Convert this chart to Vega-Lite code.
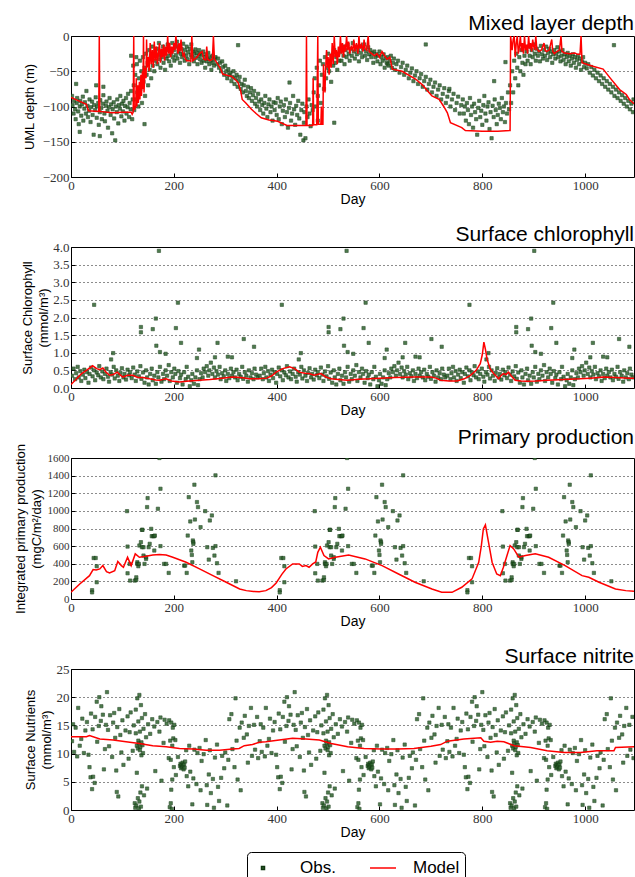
{
"$schema": "https://vega.github.io/schema/vega-lite/v6.json",
"background": "white",
"padding": {"left": 13, "top": 12, "right": 0, "bottom": 0},
"config": {
  "view": {"stroke": "black", "strokeWidth": 1},
  "axis": {"labelFont": "Liberation Serif", "labelFontSize": 13, "labelColor": "#333", "titleFont": "Liberation Sans", "titleFontSize": 13, "titleFontWeight": "normal", "titleColor": "black", "domain": false, "tickColor": "black", "tickSize": -4, "labelPadding": 5, "labelOverlap": false, "labelFlush": false, "gridDash": [1, 3], "gridColor": "black", "gridOpacity": 0.9, "titleLineHeight": 16},
  "axisX": {"grid": false, "titlePadding": 0, "titleFontSize": 14, "labelPadding": 6},
  "axisY": {"grid": true, "labelPadding": 6},
  "title": {"font": "Liberation Sans", "fontSize": 21, "fontWeight": "normal", "anchor": "end", "offset": -4, "color": "black"}
},
"datasets": {
"mldObs": [
{"d":2,"v":-85},{"d":3,"v":-98},{"d":5,"v":-110},{"d":6,"v":-92},{"d":8,"v":-104},{"d":9,"v":-118},{"d":10,"v":-68},{"d":11,"v":-95},{"d":12,"v":-88},{"d":14,"v":-107},{"d":15,"v":-125},{"d":17,"v":-100},{"d":17,"v":-136},{"d":18,"v":-92},{"d":20,"v":-113},{"d":21,"v":-97},{"d":23,"v":-86},{"d":24,"v":-120},{"d":26,"v":-103},{"d":27,"v":-94},{"d":29,"v":-110},{"d":30,"v":-78},{"d":32,"v":-99},{"d":33,"v":-115},{"d":35,"v":-106},{"d":36,"v":-90},{"d":38,"v":-122},{"d":39,"v":-101},{"d":41,"v":-93},{"d":42,"v":-112},{"d":44,"v":-140},{"d":45,"v":-98},{"d":47,"v":-105},{"d":48,"v":-87},{"d":49,"v":-70},{"d":50,"v":-116},{"d":51,"v":-100},{"d":53,"v":-95},{"d":54,"v":-126},{"d":56,"v":-108},{"d":56,"v":-142},{"d":57,"v":-91},{"d":59,"v":-102},{"d":60,"v":-118},{"d":62,"v":-96},{"d":63,"v":-84},{"d":63,"v":-72},{"d":65,"v":-110},{"d":66,"v":-121},{"d":68,"v":-99},{"d":69,"v":-93},{"d":71,"v":-106},{"d":72,"v":-130},{"d":74,"v":-101},{"d":75,"v":-88},{"d":77,"v":-112},{"d":78,"v":-97},{"d":80,"v":-138},{"d":81,"v":-104},{"d":83,"v":-94},{"d":84,"v":-117},{"d":86,"v":-148},{"d":87,"v":-100},{"d":89,"v":-108},{"d":90,"v":-90},{"d":92,"v":-124},{"d":93,"v":-98},{"d":95,"v":-103},{"d":96,"v":-85},{"d":98,"v":-114},{"d":99,"v":-96},{"d":101,"v":-107},{"d":102,"v":-92},{"d":104,"v":-120},{"d":105,"v":-99},{"d":107,"v":-88},{"d":108,"v":-110},{"d":110,"v":-101},{"d":111,"v":-82},{"d":113,"v":-115},{"d":114,"v":-95},{"d":116,"v":-104},{"d":117,"v":-78},{"d":117,"v":-28},{"d":119,"v":-118},{"d":120,"v":-90},{"d":121,"v":-42},
{"d":122,"v":-70},{"d":123,"v":-105},{"d":125,"v":-55},{"d":126,"v":-90},{"d":127,"v":-30},{"d":128,"v":-40},{"d":129,"v":-80},{"d":131,"v":-100},{"d":132,"v":-60},{"d":134,"v":-35},{"d":135,"v":-75},{"d":137,"v":-50},{"d":138,"v":-95},{"d":140,"v":-30},{"d":141,"v":-65},{"d":143,"v":-45},{"d":143,"v":-125},{"d":144,"v":-85},{"d":146,"v":-25},{"d":147,"v":-55},{"d":149,"v":-38},{"d":150,"v":-70},{"d":152,"v":-20},{"d":153,"v":-48},{"d":155,"v":-30},{"d":156,"v":-60},{"d":158,"v":-15},{"d":159,"v":-42},{"d":161,"v":-28},{"d":162,"v":-50},{"d":164,"v":-22},{"d":165,"v":-35},
{"d":167,"v":-18},{"d":168,"v":-40},{"d":170,"v":-27},{"d":171,"v":-10},{"d":173,"v":-33},{"d":174,"v":-45},{"d":176,"v":-22},{"d":177,"v":-30},{"d":179,"v":-15},{"d":180,"v":-38},{"d":182,"v":-25},{"d":183,"v":-48},{"d":185,"v":-20},{"d":186,"v":-32},{"d":188,"v":-12},{"d":189,"v":-28},{"d":191,"v":-36},{"d":192,"v":-18},{"d":194,"v":-42},{"d":195,"v":-24},{"d":197,"v":-10},{"d":198,"v":-30},{"d":200,"v":-20},{"d":201,"v":-35},{"d":203,"v":-15},{"d":204,"v":-27},{"d":206,"v":-8},{"d":207,"v":-32},{"d":209,"v":-22},{"d":210,"v":-14},{"d":212,"v":-38},{"d":213,"v":-25},{"d":215,"v":-18},{"d":216,"v":-30},{"d":218,"v":-11},{"d":219,"v":-26},{"d":221,"v":-35},{"d":222,"v":-20},{"d":224,"v":-28},{"d":225,"v":-15},{"d":227,"v":-33},{"d":228,"v":-23},{"d":230,"v":-40},{"d":231,"v":-18},{"d":233,"v":-27},{"d":234,"v":-12},{"d":236,"v":-30},{"d":237,"v":-22},{"d":239,"v":-36},{"d":240,"v":-25},{"d":242,"v":-19},{"d":243,"v":-31},{"d":245,"v":-24},{"d":246,"v":-40},{"d":248,"v":-28},{"d":249,"v":-20},{"d":251,"v":-33},{"d":252,"v":-25},{"d":254,"v":-38},{"d":255,"v":-27},{"d":257,"v":-22},{"d":258,"v":-35},{"d":260,"v":-30},{"d":261,"v":-45},{"d":263,"v":-26},{"d":264,"v":-36},{"d":266,"v":-32},{"d":267,"v":-24},{"d":269,"v":-40},{"d":270,"v":-30},{"d":272,"v":-35},{"d":273,"v":-48},{"d":275,"v":-28},{"d":276,"v":-38},{"d":278,"v":-42},{"d":279,"v":-33},{"d":281,"v":-30},
{"d":284,"v":-40},{"d":286,"v":-32},{"d":288,"v":-45},{"d":290,"v":-38},{"d":292,"v":-50},{"d":294,"v":-36},{"d":296,"v":-44},{"d":298,"v":-55},{"d":300,"v":-42},{"d":302,"v":-50},{"d":304,"v":-60},{"d":306,"v":-47},{"d":308,"v":-55},{"d":310,"v":-52},{"d":312,"v":-64},{"d":314,"v":-58},{"d":316,"v":-50},{"d":318,"v":-68},{"d":320,"v":-60},{"d":322,"v":-55},{"d":324,"v":-72},{"d":325,"v":-13},{"d":326,"v":-64},{"d":328,"v":-58},{"d":330,"v":-75},{"d":332,"v":-68},{"d":334,"v":-80},{"d":336,"v":-70},{"d":338,"v":-62},{"d":340,"v":-78},{"d":342,"v":-85},{"d":344,"v":-72},{"d":346,"v":-88},{"d":348,"v":-80},{"d":350,"v":-74},{"d":352,"v":-92},{"d":354,"v":-84},{"d":356,"v":-78},{"d":358,"v":-96},{"d":360,"v":-88},{"d":362,"v":-100},{"d":364,"v":-82},{"d":366,"v":-93},{"d":368,"v":-105},{"d":370,"v":-90},{"d":372,"v":-98},{"d":374,"v":-110},{"d":376,"v":-95},{"d":378,"v":-85},{"d":380,"v":-103},{"d":382,"v":-115},{"d":384,"v":-97},{"d":386,"v":-90},{"d":388,"v":-108},{"d":390,"v":-100},{"d":392,"v":-120},{"d":394,"v":-94},
{"d":396,"v":-105},{"d":398,"v":-95},{"d":400,"v":-112},{"d":402,"v":-88},{"d":404,"v":-118},{"d":406,"v":-100},{"d":408,"v":-93},{"d":410,"v":-125},{"d":412,"v":-106},{"d":414,"v":-98},{"d":416,"v":-115},{"d":418,"v":-90},{"d":420,"v":-108},{"d":422,"v":-130},{"d":424,"v":-102},{"d":425,"v":-66},{"d":426,"v":-95},{"d":428,"v":-120},{"d":430,"v":-110},{"d":432,"v":-85},{"d":434,"v":-104},{"d":436,"v":-126},{"d":438,"v":-99},{"d":440,"v":-112},{"d":442,"v":-92},{"d":444,"v":-117},{"d":446,"v":-140},{"d":448,"v":-105},{"d":450,"v":-96},{"d":452,"v":-148},{"d":453,"v":-123},{"d":454,"v":-108},{"d":456,"v":-145},{"d":458,"v":-100},{"d":460,"v":-115},{"d":462,"v":-90},{"d":464,"v":-110},{"d":466,"v":-128},{"d":468,"v":-98},{"d":470,"v":-105},{"d":472,"v":-80},
{"d":474,"v":-60},{"d":476,"v":-100},{"d":478,"v":-45},{"d":480,"v":-85},{"d":480,"v":-120},{"d":482,"v":-70},{"d":484,"v":-35},{"d":486,"v":-95},{"d":488,"v":-55},{"d":490,"v":-40},{"d":492,"v":-75},{"d":494,"v":-30},{"d":496,"v":-60},{"d":498,"v":-45},{"d":500,"v":-25},{"d":502,"v":-50},{"d":504,"v":-35},{"d":506,"v":-65},{"d":508,"v":-28},{"d":510,"v":-42},{"d":512,"v":-20},{"d":512,"v":-123},{"d":514,"v":-38},{"d":516,"v":-30},{"d":518,"v":-48},{"d":520,"v":-25},{"d":522,"v":-35},
{"d":524,"v":-22},{"d":526,"v":-35},{"d":528,"v":-15},{"d":530,"v":-28},{"d":532,"v":-40},{"d":534,"v":-20},{"d":536,"v":-30},{"d":538,"v":-12},{"d":540,"v":-25},{"d":542,"v":-35},{"d":544,"v":-18},{"d":546,"v":-28},{"d":548,"v":-10},{"d":550,"v":-22},{"d":552,"v":-32},{"d":554,"v":-15},{"d":556,"v":-26},{"d":558,"v":-20},{"d":560,"v":-36},{"d":562,"v":-14},{"d":564,"v":-24},{"d":566,"v":-30},{"d":568,"v":-18},{"d":570,"v":-12},{"d":572,"v":-28},{"d":574,"v":-22},{"d":576,"v":-34},{"d":578,"v":-16},{"d":580,"v":-26},{"d":582,"v":-20},{"d":584,"v":-30},{"d":586,"v":-24},{"d":588,"v":-38},{"d":590,"v":-22},{"d":592,"v":-30},{"d":594,"v":-26},{"d":596,"v":-36},{"d":598,"v":-28},{"d":600,"v":-22},{"d":602,"v":-40},{"d":604,"v":-30},{"d":606,"v":-35},{"d":608,"v":-26},{"d":610,"v":-45},{"d":612,"v":-32},{"d":614,"v":-38},
{"d":616,"v":-30},{"d":616,"v":-40},{"d":618,"v":-42},{"d":620,"v":-35},{"d":622,"v":-28},{"d":624,"v":-45},{"d":626,"v":-38},{"d":628,"v":-32},{"d":630,"v":-48},{"d":633,"v":-40},{"d":636,"v":-35},{"d":639,"v":-52},{"d":642,"v":-44},{"d":645,"v":-38},{"d":648,"v":-55},{"d":651,"v":-48},{"d":654,"v":-42},{"d":657,"v":-60},{"d":660,"v":-52},{"d":663,"v":-46},{"d":666,"v":-64},{"d":669,"v":-56},{"d":672,"v":-50},{"d":675,"v":-68},{"d":678,"v":-60},{"d":681,"v":-54},{"d":684,"v":-72},{"d":687,"v":-64},{"d":690,"v":-58},{"d":690,"v":-12},{"d":693,"v":-76},{"d":696,"v":-68},{"d":699,"v":-62},{"d":702,"v":-80},{"d":705,"v":-72},{"d":708,"v":-66},{"d":711,"v":-85},{"d":714,"v":-76},{"d":717,"v":-70},{"d":720,"v":-90},{"d":723,"v":-82},{"d":726,"v":-74},{"d":729,"v":-95},{"d":732,"v":-86},{"d":735,"v":-78},{"d":736,"v":-75},{"d":738,"v":-100},{"d":741,"v":-90},{"d":744,"v":-82},{"d":747,"v":-105},{"d":750,"v":-95},{"d":753,"v":-86},{"d":756,"v":-110},{"d":759,"v":-98},
{"d":762,"v":-90},{"d":764,"v":-110},{"d":766,"v":-100},{"d":768,"v":-120},{"d":770,"v":-95},{"d":772,"v":-105},{"d":774,"v":-125},{"d":776,"v":-88},{"d":778,"v":-112},{"d":780,"v":-100},{"d":782,"v":-130},{"d":784,"v":-96},{"d":786,"v":-108},{"d":788,"v":-118},{"d":790,"v":-140},{"d":792,"v":-102},{"d":794,"v":-92},{"d":796,"v":-115},{"d":798,"v":-106},{"d":800,"v":-126},{"d":802,"v":-98},{"d":804,"v":-85},{"d":806,"v":-110},{"d":808,"v":-120},{"d":810,"v":-100},{"d":812,"v":-94},{"d":814,"v":-132},{"d":816,"v":-108},{"d":818,"v":-145},{"d":820,"v":-99},{"d":822,"v":-115},{"d":823,"v":-64},{"d":824,"v":-90},{"d":826,"v":-105},{"d":828,"v":-125},{"d":830,"v":-112},{"d":832,"v":-96},{"d":834,"v":-102},{"d":836,"v":-118},{"d":838,"v":-88},{"d":840,"v":-108},{"d":842,"v":-100},{"d":844,"v":-122},{"d":845,"v":-37},{"d":846,"v":-95},{"d":848,"v":-110},{"d":850,"v":-80},{"d":852,"v":-104},
{"d":854,"v":-70},{"d":856,"v":-95},{"d":858,"v":-50},{"d":860,"v":-80},{"d":862,"v":-35},{"d":864,"v":-60},{"d":866,"v":-25},{"d":868,"v":-45},{"d":870,"v":-70},{"d":872,"v":-30},{"d":874,"v":-50},{"d":876,"v":-20},{"d":878,"v":-38},{"d":880,"v":-55},{"d":882,"v":-28},{"d":884,"v":-40},
{"d":886,"v":-22},{"d":888,"v":-35},{"d":890,"v":-15},{"d":892,"v":-28},{"d":894,"v":-40},{"d":896,"v":-20},{"d":898,"v":-30},{"d":900,"v":-12},{"d":902,"v":-25},{"d":904,"v":-35},{"d":906,"v":-18},{"d":908,"v":-28},{"d":910,"v":-22},{"d":912,"v":-36},{"d":914,"v":-14},{"d":916,"v":-26},{"d":918,"v":-32},{"d":920,"v":-20},{"d":922,"v":-28},{"d":924,"v":-15},{"d":926,"v":-34},{"d":928,"v":-24},{"d":930,"v":-18},{"d":932,"v":-30},{"d":934,"v":-22},{"d":936,"v":-38},{"d":938,"v":-26},{"d":940,"v":-20},{"d":942,"v":-32},{"d":944,"v":-25},{"d":946,"v":-16},{"d":948,"v":-30},{"d":950,"v":-22},{"d":952,"v":-36},{"d":954,"v":-28},{"d":956,"v":-20},{"d":958,"v":-34},{"d":960,"v":-26},{"d":962,"v":-40},{"d":964,"v":-30},{"d":966,"v":-24},{"d":968,"v":-36},{"d":970,"v":-28},{"d":972,"v":-42},{"d":974,"v":-32},{"d":976,"v":-26},{"d":978,"v":-38},{"d":980,"v":-30},{"d":982,"v":-45},{"d":984,"v":-34},{"d":986,"v":-28},{"d":988,"v":-40},{"d":990,"v":-32},{"d":992,"v":-48},{"d":994,"v":-36},{"d":996,"v":-30},{"d":998,"v":-44},
{"d":1000,"v":-38},{"d":1003,"v":-46},{"d":1006,"v":-40},{"d":1009,"v":-52},{"d":1012,"v":-44},{"d":1015,"v":-56},{"d":1018,"v":-48},{"d":1021,"v":-60},{"d":1024,"v":-52},{"d":1027,"v":-64},{"d":1030,"v":-56},{"d":1033,"v":-68},{"d":1036,"v":-60},{"d":1039,"v":-72},{"d":1042,"v":-64},{"d":1045,"v":-76},{"d":1048,"v":-68},{"d":1051,"v":-80},{"d":1054,"v":-72},{"d":1056,"v":-13},{"d":1057,"v":-85},{"d":1060,"v":-76},{"d":1063,"v":-88},{"d":1066,"v":-80},{"d":1069,"v":-92},{"d":1072,"v":-84},{"d":1075,"v":-96},{"d":1078,"v":-88},{"d":1081,"v":-100},{"d":1084,"v":-92},{"d":1087,"v":-104},{"d":1090,"v":-96},{"d":1093,"v":-108},{"d":1094,"v":-90}
],
"mldMod": [
{"d":0,"v":-87},{"d":15,"v":-92},{"d":30,"v":-97},{"d":34,"v":-106},{"d":54,"v":-107},{"d":55,"v":0},{"d":56,"v":-107},{"d":80,"v":-109},{"d":100,"v":-108},{"d":117,"v":-108},{"d":119,"v":-111},{"d":121,"v":-108},{"d":122,"v":0},{"d":123,"v":-105},{"d":126,"v":-100},{"d":127,"v":-60},{"d":128,"v":-100},{"d":130,"v":-70},{"d":131,"v":-95},{"d":133,"v":-65},{"d":134,"v":-90},{"d":136,"v":-55},{"d":137,"v":-85},{"d":139,"v":-50},{"d":140,"v":-75},{"d":141,"v":0},{"d":142,"v":-80},{"d":144,"v":-45},{"d":146,"v":-60},{"d":147,"v":-5},{"d":148,"v":-45},{"d":150,"v":-30},{"d":152,"v":-50},{"d":154,"v":-10},{"d":156,"v":-40},{"d":158,"v":-20},{"d":160,"v":-45},{"d":162,"v":-8},{"d":164,"v":-35},{"d":166,"v":-15},{"d":168,"v":-40},{"d":170,"v":-25},{"d":172,"v":-10},{"d":174,"v":-38},{"d":176,"v":-18},{"d":178,"v":-30},{"d":180,"v":-12},{"d":182,"v":-35},{"d":184,"v":-15},{"d":186,"v":-28},{"d":188,"v":0},{"d":190,"v":-25},{"d":192,"v":-10},{"d":194,"v":-30},{"d":196,"v":-15},{"d":198,"v":-25},{"d":200,"v":-10},{"d":202,"v":-20},{"d":204,"v":0},{"d":206,"v":-15},{"d":208,"v":-25},{"d":210,"v":-10},{"d":212,"v":-22},{"d":214,"v":-5},{"d":216,"v":-20},{"d":218,"v":-28},{"d":220,"v":-25},{"d":222,"v":-32},{"d":225,"v":-35},{"d":230,"v":-35},{"d":233,"v":-36},{"d":235,"v":0},{"d":237,"v":-35},{"d":245,"v":-30},{"d":250,"v":-25},{"d":255,"v":-22},{"d":258,"v":-33},{"d":262,"v":-34},{"d":264,"v":-15},{"d":266,"v":-33},{"d":270,"v":-35},{"d":275,"v":-33},{"d":277,"v":0},{"d":279,"v":-33},{"d":283,"v":-37},{"d":290,"v":-45},{"d":295,"v":-54},{"d":305,"v":-56},{"d":312,"v":-57},{"d":320,"v":-62},{"d":325,"v":-66},{"d":330,"v":-78},{"d":333,"v":-90},{"d":340,"v":-95},{"d":351,"v":-104},{"d":360,"v":-110},{"d":370,"v":-116},{"d":385,"v":-119},{"d":402,"v":-121},{"d":420,"v":-127},{"d":457,"v":-127},{"d":458,"v":0},{"d":459,"v":-127},{"d":470,"v":-127},{"d":471,"v":-60},{"d":472,"v":-126},{"d":478,"v":-126},{"d":480,"v":0},{"d":481,"v":-125},{"d":486,"v":-125},{"d":487,"v":-100},{"d":488,"v":-125},{"d":490,"v":-125},{"d":491,"v":-40},{"d":492,"v":-60},{"d":494,"v":-80},{"d":495,"v":-50},{"d":497,"v":-20},{"d":499,"v":-45},{"d":500,"v":-30},{"d":502,"v":-55},{"d":504,"v":-25},{"d":506,"v":-45},{"d":508,"v":-10},{"d":510,"v":-40},{"d":512,"v":0},{"d":514,"v":-30},{"d":516,"v":-20},{"d":518,"v":-40},{"d":520,"v":-15},{"d":522,"v":-30},{"d":524,"v":0},{"d":526,"v":-25},{"d":528,"v":-10},{"d":530,"v":-30},{"d":532,"v":-12},{"d":534,"v":-22},{"d":536,"v":0},{"d":538,"v":-20},{"d":540,"v":-8},{"d":542,"v":-25},{"d":545,"v":-15},{"d":548,"v":-20},{"d":550,"v":-5},{"d":552,"v":-22},{"d":555,"v":-10},{"d":558,"v":-25},{"d":560,"v":0},{"d":562,"v":-18},{"d":565,"v":-12},{"d":568,"v":-22},{"d":570,"v":-5},{"d":572,"v":-18},{"d":575,"v":-20},{"d":578,"v":0},{"d":580,"v":-22},{"d":585,"v":-25},{"d":590,"v":-28},{"d":595,"v":-25},{"d":600,"v":-30},{"d":605,"v":-22},{"d":610,"v":-28},{"d":615,"v":-33},{"d":620,"v":-30},{"d":625,"v":-47},{"d":644,"v":-50},{"d":670,"v":-61},{"d":683,"v":-69},{"d":702,"v":-85},{"d":716,"v":-90},{"d":725,"v":-100},{"d":732,"v":-109},{"d":738,"v":-123},{"d":760,"v":-130},{"d":767,"v":-134},{"d":800,"v":-135},{"d":830,"v":-135},{"d":854,"v":-134},{"d":855,"v":0},{"d":858,"v":-20},{"d":860,"v":-5},{"d":862,"v":0},{"d":864,"v":-30},{"d":866,"v":-10},{"d":868,"v":0},{"d":870,"v":-25},{"d":872,"v":-15},{"d":874,"v":0},{"d":876,"v":-22},{"d":878,"v":-10},{"d":880,"v":-25},{"d":882,"v":0},{"d":884,"v":-20},{"d":886,"v":-12},{"d":888,"v":-25},{"d":890,"v":0},{"d":892,"v":-18},{"d":894,"v":-10},{"d":896,"v":-22},{"d":898,"v":-5},{"d":900,"v":-15},{"d":902,"v":-20},{"d":904,"v":0},{"d":906,"v":-18},{"d":910,"v":-22},{"d":915,"v":-20},{"d":920,"v":-10},{"d":922,"v":-20},{"d":925,"v":-22},{"d":930,"v":-20},{"d":935,"v":-5},{"d":937,"v":-22},{"d":940,"v":-25},{"d":945,"v":-22},{"d":950,"v":-20},{"d":953,"v":0},{"d":955,"v":-22},{"d":960,"v":-24},{"d":970,"v":-25},{"d":980,"v":-24},{"d":985,"v":-26},{"d":990,"v":-26},{"d":992,"v":0},{"d":994,"v":-38},{"d":1003,"v":-40},{"d":1015,"v":-43},{"d":1035,"v":-47},{"d":1048,"v":-59},{"d":1067,"v":-76},{"d":1080,"v":-83},{"d":1086,"v":-90},{"d":1095,"v":-96}
],
"chlObs": [
{"d":2,"v":0.35},{"d":5,"v":0.55},{"d":8,"v":0.25},{"d":10,"v":0.42},{"d":13,"v":0.6},{"d":15,"v":0.3},{"d":18,"v":0.48},{"d":20,"v":0.2},{"d":23,"v":0.38},{"d":26,"v":0.52},{"d":28,"v":0.28},{"d":31,"v":0.45},{"d":34,"v":0.15},{"d":36,"v":0.4},{"d":39,"v":0.58},{"d":42,"v":0.33},{"d":45,"v":0.5},{"d":47,"v":0.22},{"d":50,"v":0.44},{"d":53,"v":0.36},{"d":55,"v":0.62},{"d":58,"v":0.3},{"d":61,"v":0.47},{"d":63,"v":0.25},{"d":66,"v":0.4},{"d":69,"v":0.55},{"d":72,"v":0.32},{"d":74,"v":0.18},{"d":77,"v":0.45},{"d":80,"v":0.38},{"d":83,"v":0.6},{"d":85,"v":0.27},{"d":88,"v":0.5},{"d":91,"v":0.35},{"d":94,"v":0.2},{"d":96,"v":0.43},{"d":99,"v":0.56},{"d":102,"v":0.3},{"d":104,"v":0.4},{"d":107,"v":0.24},{"d":110,"v":0.52},{"d":113,"v":0.36},{"d":115,"v":0.45},{"d":118,"v":0.28},{"d":121,"v":0.58},{"d":124,"v":0.38},{"d":126,"v":0.2},{"d":129,"v":0.47},{"d":132,"v":0.33},{"d":135,"v":0.62},{"d":137,"v":0.26},{"d":140,"v":0.44},{"d":143,"v":0.15},{"d":146,"v":0.5},{"d":148,"v":0.3},{"d":151,"v":0.1},{"d":154,"v":0.4},{"d":157,"v":0.55},{"d":159,"v":0.22},{"d":162,"v":0.35},{"d":165,"v":0.12},{"d":168,"v":0.45},{"d":170,"v":0.3},{"d":173,"v":0.6},{"d":176,"v":0.18},{"d":179,"v":0.4},{"d":181,"v":0.25},{"d":184,"v":0.5},{"d":187,"v":0.35},{"d":190,"v":0.65},{"d":192,"v":0.2},{"d":195,"v":0.45},{"d":198,"v":0.3},{"d":201,"v":0.55},{"d":203,"v":0.4},{"d":206,"v":0.15},{"d":209,"v":0.48},{"d":212,"v":0.28},{"d":214,"v":0.38},{"d":217,"v":0.1},{"d":220,"v":0.45},{"d":223,"v":0.25},{"d":225,"v":0.6},{"d":228,"v":0.32},{"d":231,"v":0.05},{"d":234,"v":0.22},{"d":236,"v":0.4},{"d":239,"v":0.12},{"d":242,"v":0.3},{"d":245,"v":0.5},{"d":247,"v":0.08},{"d":250,"v":0.25},{"d":253,"v":0.42},{"d":256,"v":0.3},{"d":258,"v":0.55},{"d":261,"v":0.45},{"d":264,"v":0.62},{"d":267,"v":0.35},{"d":269,"v":0.5},{"d":272,"v":0.72},{"d":275,"v":0.4},{"d":278,"v":0.58},{"d":280,"v":0.3},{"d":283,"v":0.48},{"d":286,"v":0.38},{"d":289,"v":0.6},{"d":291,"v":0.25},{"d":294,"v":0.42},{"d":297,"v":0.33},{"d":300,"v":0.5},{"d":302,"v":0.2},{"d":305,"v":0.4},{"d":308,"v":0.28},{"d":311,"v":0.55},{"d":313,"v":0.35},{"d":316,"v":0.45},{"d":319,"v":0.3},{"d":322,"v":0.52},{"d":324,"v":0.22},{"d":327,"v":0.4},{"d":330,"v":0.32},{"d":333,"v":0.6},{"d":335,"v":0.26},{"d":338,"v":0.45},{"d":341,"v":0.35},{"d":344,"v":0.18},{"d":346,"v":0.5},{"d":349,"v":0.3},{"d":352,"v":0.42},{"d":355,"v":0.25},{"d":357,"v":0.55},{"d":360,"v":0.38},{"d":363,"v":0.3},
{"d":45,"v":2.36},{"d":171,"v":3.89},{"d":208,"v":2.42},{"d":165,"v":1.97},{"d":136,"v":1.73},{"d":136,"v":1.58},{"d":159,"v":1.67},{"d":204,"v":1.7},{"d":214,"v":1.28},{"d":166,"v":1.2},{"d":173,"v":1.02},{"d":184,"v":0.97},{"d":82,"v":0.99},{"d":78,"v":0.81},{"d":249,"v":1.09},{"d":285,"v":1.28},{"d":336,"v":1.39},{"d":356,"v":1.17},{"d":305,"v":0.89},{"d":313,"v":0.87},{"d":280,"v":0.87},{"d":245,"v":0.85},
{"d":367,"v":0.35},{"d":370,"v":0.55},{"d":373,"v":0.25},{"d":375,"v":0.42},{"d":378,"v":0.6},{"d":380,"v":0.3},{"d":383,"v":0.48},{"d":385,"v":0.2},{"d":388,"v":0.38},{"d":391,"v":0.52},{"d":393,"v":0.28},{"d":396,"v":0.45},{"d":399,"v":0.15},{"d":401,"v":0.4},{"d":404,"v":0.58},{"d":407,"v":0.33},{"d":410,"v":0.5},{"d":412,"v":0.22},{"d":415,"v":0.44},{"d":418,"v":0.36},{"d":420,"v":0.62},{"d":423,"v":0.3},{"d":426,"v":0.47},{"d":428,"v":0.25},{"d":431,"v":0.4},{"d":434,"v":0.55},{"d":437,"v":0.32},{"d":439,"v":0.18},{"d":442,"v":0.45},{"d":445,"v":0.38},{"d":448,"v":0.6},{"d":450,"v":0.27},{"d":453,"v":0.5},{"d":456,"v":0.35},{"d":459,"v":0.2},{"d":461,"v":0.43},{"d":464,"v":0.56},{"d":467,"v":0.3},{"d":469,"v":0.4},{"d":472,"v":0.24},{"d":475,"v":0.52},{"d":478,"v":0.36},{"d":480,"v":0.45},{"d":483,"v":0.28},{"d":486,"v":0.58},{"d":489,"v":0.38},{"d":491,"v":0.2},{"d":494,"v":0.47},{"d":497,"v":0.33},{"d":500,"v":0.62},{"d":502,"v":0.26},{"d":505,"v":0.44},{"d":508,"v":0.15},{"d":511,"v":0.5},{"d":513,"v":0.3},{"d":516,"v":0.1},{"d":519,"v":0.4},{"d":522,"v":0.55},{"d":524,"v":0.22},{"d":527,"v":0.35},{"d":530,"v":0.12},{"d":533,"v":0.45},{"d":535,"v":0.3},{"d":538,"v":0.6},{"d":541,"v":0.18},{"d":544,"v":0.4},{"d":546,"v":0.25},{"d":549,"v":0.5},{"d":552,"v":0.35},{"d":555,"v":0.65},{"d":557,"v":0.2},{"d":560,"v":0.45},{"d":563,"v":0.3},{"d":566,"v":0.55},{"d":568,"v":0.4},{"d":571,"v":0.15},{"d":574,"v":0.48},{"d":577,"v":0.28},{"d":579,"v":0.38},{"d":582,"v":0.1},{"d":585,"v":0.45},{"d":588,"v":0.25},{"d":590,"v":0.6},{"d":593,"v":0.32},{"d":596,"v":0.05},{"d":599,"v":0.22},{"d":601,"v":0.4},{"d":604,"v":0.12},{"d":607,"v":0.3},{"d":610,"v":0.5},{"d":612,"v":0.08},{"d":615,"v":0.25},{"d":618,"v":0.42},{"d":621,"v":0.3},{"d":623,"v":0.55},{"d":626,"v":0.45},{"d":629,"v":0.62},{"d":632,"v":0.35},{"d":634,"v":0.5},{"d":637,"v":0.72},{"d":640,"v":0.4},{"d":643,"v":0.58},{"d":645,"v":0.3},{"d":648,"v":0.48},{"d":651,"v":0.38},{"d":654,"v":0.6},{"d":656,"v":0.25},{"d":659,"v":0.42},{"d":662,"v":0.33},{"d":665,"v":0.5},{"d":667,"v":0.2},{"d":670,"v":0.4},{"d":673,"v":0.28},{"d":676,"v":0.55},{"d":678,"v":0.35},{"d":681,"v":0.45},{"d":684,"v":0.3},{"d":687,"v":0.52},{"d":689,"v":0.22},{"d":692,"v":0.4},{"d":695,"v":0.32},{"d":698,"v":0.6},{"d":700,"v":0.26},{"d":703,"v":0.45},{"d":706,"v":0.35},{"d":709,"v":0.18},{"d":711,"v":0.5},{"d":714,"v":0.3},{"d":717,"v":0.42},{"d":720,"v":0.25},{"d":722,"v":0.55},{"d":725,"v":0.38},{"d":728,"v":0.3},
{"d":410,"v":2.36},{"d":536,"v":3.89},{"d":573,"v":2.42},{"d":530,"v":1.97},{"d":501,"v":1.73},{"d":501,"v":1.58},{"d":524,"v":1.67},{"d":569,"v":1.7},{"d":579,"v":1.28},{"d":531,"v":1.2},{"d":538,"v":1.02},{"d":549,"v":0.97},{"d":447,"v":0.99},{"d":443,"v":0.81},{"d":614,"v":1.09},{"d":650,"v":1.28},{"d":701,"v":1.39},{"d":721,"v":1.17},{"d":670,"v":0.89},{"d":678,"v":0.87},{"d":645,"v":0.87},{"d":610,"v":0.85},
{"d":732,"v":0.35},{"d":735,"v":0.55},{"d":738,"v":0.25},{"d":740,"v":0.42},{"d":743,"v":0.6},{"d":745,"v":0.3},{"d":748,"v":0.48},{"d":750,"v":0.2},{"d":753,"v":0.38},{"d":756,"v":0.52},{"d":758,"v":0.28},{"d":761,"v":0.45},{"d":764,"v":0.15},{"d":766,"v":0.4},{"d":769,"v":0.58},{"d":772,"v":0.33},{"d":775,"v":0.5},{"d":777,"v":0.22},{"d":780,"v":0.44},{"d":783,"v":0.36},{"d":785,"v":0.62},{"d":788,"v":0.3},{"d":791,"v":0.47},{"d":793,"v":0.25},{"d":796,"v":0.4},{"d":799,"v":0.55},{"d":802,"v":0.32},{"d":804,"v":0.18},{"d":807,"v":0.45},{"d":810,"v":0.38},{"d":813,"v":0.6},{"d":815,"v":0.27},{"d":818,"v":0.5},{"d":821,"v":0.35},{"d":824,"v":0.2},{"d":826,"v":0.43},{"d":829,"v":0.56},{"d":832,"v":0.3},{"d":834,"v":0.4},{"d":837,"v":0.24},{"d":840,"v":0.52},{"d":843,"v":0.36},{"d":845,"v":0.45},{"d":848,"v":0.28},{"d":851,"v":0.58},{"d":854,"v":0.38},{"d":856,"v":0.2},{"d":859,"v":0.47},{"d":862,"v":0.33},{"d":865,"v":0.62},{"d":867,"v":0.26},{"d":870,"v":0.44},{"d":873,"v":0.15},{"d":876,"v":0.5},{"d":878,"v":0.3},{"d":881,"v":0.1},{"d":884,"v":0.4},{"d":887,"v":0.55},{"d":889,"v":0.22},{"d":892,"v":0.35},{"d":895,"v":0.12},{"d":898,"v":0.45},{"d":900,"v":0.3},{"d":903,"v":0.6},{"d":906,"v":0.18},{"d":909,"v":0.4},{"d":911,"v":0.25},{"d":914,"v":0.5},{"d":917,"v":0.35},{"d":920,"v":0.65},{"d":922,"v":0.2},{"d":925,"v":0.45},{"d":928,"v":0.3},{"d":931,"v":0.55},{"d":933,"v":0.4},{"d":936,"v":0.15},{"d":939,"v":0.48},{"d":942,"v":0.28},{"d":944,"v":0.38},{"d":947,"v":0.1},{"d":950,"v":0.45},{"d":953,"v":0.25},{"d":955,"v":0.6},{"d":958,"v":0.32},{"d":961,"v":0.05},{"d":964,"v":0.22},{"d":966,"v":0.4},{"d":969,"v":0.12},{"d":972,"v":0.3},{"d":975,"v":0.5},{"d":977,"v":0.08},{"d":980,"v":0.25},{"d":983,"v":0.42},{"d":986,"v":0.3},{"d":988,"v":0.55},{"d":991,"v":0.45},{"d":994,"v":0.62},{"d":997,"v":0.35},{"d":999,"v":0.5},{"d":1002,"v":0.72},{"d":1005,"v":0.4},{"d":1008,"v":0.58},{"d":1010,"v":0.3},{"d":1013,"v":0.48},{"d":1016,"v":0.38},{"d":1019,"v":0.6},{"d":1021,"v":0.25},{"d":1024,"v":0.42},{"d":1027,"v":0.33},{"d":1030,"v":0.5},{"d":1032,"v":0.2},{"d":1035,"v":0.4},{"d":1038,"v":0.28},{"d":1041,"v":0.55},{"d":1043,"v":0.35},{"d":1046,"v":0.45},{"d":1049,"v":0.3},{"d":1052,"v":0.52},{"d":1054,"v":0.22},{"d":1057,"v":0.4},{"d":1060,"v":0.32},{"d":1063,"v":0.6},{"d":1065,"v":0.26},{"d":1068,"v":0.45},{"d":1071,"v":0.35},{"d":1074,"v":0.18},{"d":1076,"v":0.5},{"d":1079,"v":0.3},{"d":1082,"v":0.42},{"d":1085,"v":0.25},{"d":1087,"v":0.55},{"d":1090,"v":0.38},{"d":1093,"v":0.3},
{"d":775,"v":2.36},{"d":901,"v":3.89},{"d":938,"v":2.42},{"d":895,"v":1.97},{"d":866,"v":1.73},{"d":866,"v":1.58},{"d":889,"v":1.67},{"d":934,"v":1.7},{"d":944,"v":1.28},{"d":896,"v":1.2},{"d":903,"v":1.02},{"d":914,"v":0.97},{"d":812,"v":0.99},{"d":808,"v":0.81},{"d":979,"v":1.09},{"d":1015,"v":1.28},{"d":1066,"v":1.39},{"d":1086,"v":1.17},{"d":1035,"v":0.89},{"d":1043,"v":0.87},{"d":1010,"v":0.87},{"d":975,"v":0.85}
],
"chlMod": [
{"d":0,"v":0.1},{"d":10,"v":0.25},{"d":20,"v":0.4},{"d":30,"v":0.5},{"d":42,"v":0.63},{"d":50,"v":0.55},{"d":56,"v":0.52},{"d":62,"v":0.57},{"d":68,"v":0.45},{"d":75,"v":0.36},{"d":82,"v":0.38},{"d":90,"v":0.45},{"d":95,"v":0.38},{"d":101,"v":0.31},{"d":110,"v":0.36},{"d":120,"v":0.36},{"d":130,"v":0.3},{"d":140,"v":0.3},{"d":153,"v":0.26},{"d":165,"v":0.23},{"d":172,"v":0.22},{"d":185,"v":0.26},{"d":195,"v":0.2},{"d":211,"v":0.17},{"d":230,"v":0.2},{"d":250,"v":0.22},{"d":270,"v":0.24},{"d":290,"v":0.27},{"d":314,"v":0.31},{"d":330,"v":0.3},{"d":347,"v":0.26},{"d":365,"v":0.26},{"d":380,"v":0.28},{"d":390,"v":0.34},{"d":399,"v":0.45},{"d":412,"v":0.55},{"d":425,"v":0.6},{"d":435,"v":0.55},{"d":444,"v":0.45},{"d":455,"v":0.42},{"d":463,"v":0.41},{"d":473,"v":0.36},{"d":486,"v":0.41},{"d":495,"v":0.32},{"d":505,"v":0.26},{"d":520,"v":0.24},{"d":537,"v":0.22},{"d":560,"v":0.25},{"d":580,"v":0.26},{"d":602,"v":0.28},{"d":630,"v":0.3},{"d":667,"v":0.31},{"d":700,"v":0.31},{"d":710,"v":0.28},{"d":719,"v":0.22},{"d":735,"v":0.2},{"d":751,"v":0.2},{"d":765,"v":0.26},{"d":777,"v":0.36},{"d":788,"v":0.5},{"d":796,"v":0.69},{"d":800,"v":0.95},{"d":803,"v":1.3},{"d":806,"v":1.1},{"d":809,"v":0.83},{"d":815,"v":0.55},{"d":822,"v":0.41},{"d":832,"v":0.26},{"d":836,"v":0.35},{"d":841,"v":0.41},{"d":846,"v":0.38},{"d":851,"v":0.45},{"d":856,"v":0.35},{"d":864,"v":0.22},{"d":875,"v":0.2},{"d":887,"v":0.19},{"d":905,"v":0.2},{"d":926,"v":0.22},{"d":960,"v":0.24},{"d":990,"v":0.26},{"d":1010,"v":0.28},{"d":1035,"v":0.31},{"d":1060,"v":0.3},{"d":1087,"v":0.28},{"d":1095,"v":0.28}
],
"ppObs": [
{"d":41,"v":100},{"d":41,"v":75},{"d":44,"v":465},{"d":48,"v":465},{"d":50,"v":372},{"d":50,"v":190},{"d":109,"v":997},{"d":110,"v":595},{"d":110,"v":292},{"d":114,"v":398},{"d":115,"v":209},{"d":124,"v":209},{"d":127,"v":216},{"d":127,"v":246},{"d":129,"v":417},{"d":129,"v":398},{"d":131,"v":372},{"d":132,"v":398},{"d":133,"v":607},{"d":136,"v":645},{"d":138,"v":588},{"d":138,"v":785},{"d":139,"v":785},{"d":141,"v":493},{"d":141,"v":588},{"d":143,"v":398},{"d":146,"v":455},{"d":146,"v":474},{"d":148,"v":1043},{"d":149,"v":1145},{"d":151,"v":588},{"d":153,"v":626},{"d":156,"v":796},{"d":157,"v":713},{"d":160,"v":713},{"d":162,"v":713},{"d":163,"v":720},{"d":162,"v":550},{"d":169,"v":1024},{"d":172,"v":1600},{"d":174,"v":1251},{"d":174,"v":600},{"d":181,"v":398},{"d":185,"v":398},{"d":190,"v":296},{"d":220,"v":379},{"d":222,"v":379},{"d":225,"v":296},{"d":227,"v":720},{"d":229,"v":1156},{"d":232,"v":880},{"d":234,"v":550},{"d":235,"v":500},{"d":236,"v":417},{"d":237,"v":664},{"d":238,"v":645},{"d":238,"v":626},{"d":240,"v":1297},{"d":241,"v":902},{"d":245,"v":1100},{"d":247,"v":1043},{"d":252,"v":815},{"d":261,"v":997},{"d":265,"v":588},{"d":268,"v":447},{"d":270,"v":891},{"d":274,"v":948},{"d":276,"v":580},{"d":279,"v":493},{"d":281,"v":600},{"d":281,"v":1403},{"d":284,"v":406},{"d":287,"v":296},{"d":321,"v":201},
{"d":406,"v":100},{"d":406,"v":75},{"d":409,"v":465},{"d":413,"v":465},{"d":415,"v":372},{"d":415,"v":190},{"d":474,"v":997},{"d":475,"v":595},{"d":475,"v":292},{"d":479,"v":398},{"d":480,"v":209},{"d":489,"v":209},{"d":492,"v":216},{"d":492,"v":246},{"d":494,"v":417},{"d":494,"v":398},{"d":496,"v":372},{"d":497,"v":398},{"d":498,"v":607},{"d":501,"v":645},{"d":503,"v":588},{"d":503,"v":785},{"d":504,"v":785},{"d":506,"v":493},{"d":506,"v":588},{"d":508,"v":398},{"d":511,"v":455},{"d":511,"v":474},{"d":513,"v":1043},{"d":514,"v":1145},{"d":516,"v":588},{"d":518,"v":626},{"d":521,"v":796},{"d":522,"v":713},{"d":525,"v":713},{"d":527,"v":713},{"d":528,"v":720},{"d":527,"v":550},{"d":534,"v":1024},{"d":537,"v":1600},{"d":539,"v":1251},{"d":539,"v":600},{"d":546,"v":398},{"d":550,"v":398},{"d":555,"v":296},{"d":585,"v":379},{"d":587,"v":379},{"d":590,"v":296},{"d":592,"v":720},{"d":594,"v":1156},{"d":597,"v":880},{"d":599,"v":550},{"d":600,"v":500},{"d":601,"v":417},{"d":602,"v":664},{"d":603,"v":645},{"d":603,"v":626},{"d":605,"v":1297},{"d":606,"v":902},{"d":610,"v":1100},{"d":612,"v":1043},{"d":617,"v":815},{"d":626,"v":997},{"d":630,"v":588},{"d":633,"v":447},{"d":635,"v":891},{"d":639,"v":948},{"d":641,"v":580},{"d":644,"v":493},{"d":646,"v":600},{"d":646,"v":1403},{"d":649,"v":406},{"d":652,"v":296},{"d":686,"v":201},
{"d":771,"v":100},{"d":771,"v":75},{"d":774,"v":465},{"d":778,"v":465},{"d":780,"v":372},{"d":780,"v":190},{"d":839,"v":997},{"d":840,"v":595},{"d":840,"v":292},{"d":844,"v":398},{"d":845,"v":209},{"d":854,"v":209},{"d":857,"v":216},{"d":857,"v":246},{"d":859,"v":417},{"d":859,"v":398},{"d":861,"v":372},{"d":862,"v":398},{"d":863,"v":607},{"d":866,"v":645},{"d":868,"v":588},{"d":868,"v":785},{"d":869,"v":785},{"d":871,"v":493},{"d":871,"v":588},{"d":873,"v":398},{"d":876,"v":455},{"d":876,"v":474},{"d":878,"v":1043},{"d":879,"v":1145},{"d":881,"v":588},{"d":883,"v":626},{"d":886,"v":796},{"d":887,"v":713},{"d":890,"v":713},{"d":892,"v":713},{"d":893,"v":720},{"d":892,"v":550},{"d":899,"v":1024},{"d":902,"v":1600},{"d":904,"v":1251},{"d":904,"v":600},{"d":911,"v":398},{"d":915,"v":398},{"d":920,"v":296},{"d":950,"v":379},{"d":952,"v":379},{"d":955,"v":296},{"d":957,"v":720},{"d":959,"v":1156},{"d":962,"v":880},{"d":964,"v":550},{"d":965,"v":500},{"d":966,"v":417},{"d":967,"v":664},{"d":968,"v":645},{"d":968,"v":626},{"d":970,"v":1297},{"d":971,"v":902},{"d":975,"v":1100},{"d":977,"v":1043},{"d":982,"v":815},{"d":991,"v":997},{"d":995,"v":588},{"d":998,"v":447},{"d":1000,"v":891},{"d":1004,"v":948},{"d":1006,"v":580},{"d":1009,"v":493},{"d":1011,"v":600},{"d":1011,"v":1403},{"d":1014,"v":406},{"d":1017,"v":296},{"d":1051,"v":201}
],
"ppMod": [
{"d":0,"v":76},{"d":17,"v":170},{"d":36,"v":265},{"d":43,"v":334},{"d":49,"v":330},{"d":56,"v":341},{"d":62,"v":379},{"d":69,"v":311},{"d":75,"v":296},{"d":85,"v":322},{"d":91,"v":425},{"d":98,"v":379},{"d":102,"v":360},{"d":110,"v":474},{"d":117,"v":379},{"d":125,"v":512},{"d":133,"v":474},{"d":146,"v":485},{"d":159,"v":500},{"d":172,"v":505},{"d":185,"v":500},{"d":198,"v":474},{"d":224,"v":417},{"d":250,"v":341},{"d":276,"v":265},{"d":302,"v":190},{"d":328,"v":114},{"d":341,"v":95},{"d":355,"v":85},{"d":366,"v":83},{"d":379,"v":95},{"d":390,"v":130},{"d":399,"v":182},{"d":410,"v":280},{"d":418,"v":341},{"d":431,"v":398},{"d":444,"v":398},{"d":450,"v":370},{"d":457,"v":379},{"d":463,"v":360},{"d":470,"v":398},{"d":476,"v":420},{"d":480,"v":530},{"d":485,"v":588},{"d":492,"v":493},{"d":501,"v":455},{"d":514,"v":474},{"d":540,"v":500},{"d":572,"v":455},{"d":605,"v":379},{"d":637,"v":284},{"d":669,"v":190},{"d":702,"v":114},{"d":721,"v":76},{"d":741,"v":76},{"d":760,"v":133},{"d":780,"v":228},{"d":793,"v":417},{"d":798,"v":600},{"d":802,"v":796},{"d":806,"v":842},{"d":812,"v":645},{"d":819,"v":417},{"d":828,"v":284},{"d":835,"v":265},{"d":841,"v":360},{"d":848,"v":493},{"d":854,"v":607},{"d":861,"v":569},{"d":871,"v":474},{"d":884,"v":493},{"d":903,"v":512},{"d":929,"v":474},{"d":961,"v":379},{"d":994,"v":265},{"d":1007,"v":246},{"d":1027,"v":190},{"d":1059,"v":114},{"d":1079,"v":95},{"d":1095,"v":87}
],
"no2Obs": [
{"d":2,"v":12.2},{"d":4,"v":15.2},{"d":6,"v":10.3},{"d":9,"v":14.6},{"d":12,"v":9.5},{"d":14,"v":18.1},{"d":17,"v":11.4},{"d":20,"v":12.6},{"d":22,"v":16.2},{"d":25,"v":10.1},{"d":28,"v":14.1},{"d":31,"v":15.6},{"d":34,"v":9.8},{"d":36,"v":7.6},{"d":38,"v":5.8},{"d":39,"v":17.1},{"d":41,"v":3.7},{"d":42,"v":14.3},{"d":43,"v":5.9},{"d":46,"v":4.8},{"d":47,"v":16.5},{"d":50,"v":19.2},{"d":51,"v":12.1},{"d":54,"v":14.9},{"d":55,"v":20.0},{"d":58,"v":15.8},{"d":59,"v":18.4},{"d":62,"v":16.9},{"d":64,"v":7.2},{"d":66,"v":10.8},{"d":68,"v":15.1},{"d":70,"v":20.9},{"d":72,"v":14.2},{"d":74,"v":11.3},{"d":76,"v":16.8},{"d":80,"v":9.4},{"d":82,"v":15.5},{"d":84,"v":17.2},{"d":86,"v":12.8},{"d":88,"v":7.0},{"d":89,"v":3.2},{"d":90,"v":14.7},{"d":92,"v":2.4},{"d":94,"v":17.9},{"d":96,"v":13.3},{"d":98,"v":10.2},{"d":100,"v":15.9},{"d":102,"v":8.0},{"d":106,"v":14.1},{"d":110,"v":16.6},{"d":112,"v":9.1},{"d":114,"v":13.8},{"d":116,"v":17.3},{"d":120,"v":10.5},{"d":122,"v":15.0},{"d":124,"v":1.2},{"d":125,"v":0.4},{"d":126,"v":13.6},{"d":126,"v":17.8},{"d":127,"v":0.8},{"d":128,"v":6.6},{"d":128,"v":11.4},{"d":129,"v":19.8},{"d":130,"v":10.9},{"d":130,"v":2.1},{"d":131,"v":12.3},{"d":131,"v":15.7},{"d":132,"v":0.3},{"d":132,"v":11.8},{"d":133,"v":20.4},{"d":133,"v":1.5},{"d":134,"v":10.6},{"d":134,"v":13.9},{"d":135,"v":3.1},{"d":135,"v":11.2},{"d":136,"v":18.6},{"d":136,"v":0.6},{"d":137,"v":9.7},{"d":137,"v":12.0},{"d":138,"v":16.3},{"d":138,"v":4.2},{"d":139,"v":11.5},{"d":140,"v":10.1},{"d":141,"v":14.4},{"d":142,"v":2.6},{"d":144,"v":17.0},{"d":146,"v":12.9},{"d":148,"v":3.8},{"d":150,"v":15.2},{"d":154,"v":13.5},{"d":158,"v":16.1},{"d":162,"v":14.8},{"d":164,"v":6.9},{"d":168,"v":15.6},{"d":172,"v":13.9},{"d":174,"v":16.4},{"d":176,"v":5.2},{"d":180,"v":11.9},{"d":182,"v":16.0},{"d":186,"v":15.3},{"d":190,"v":9.2},{"d":191,"v":15.9},{"d":192,"v":0.5},{"d":193,"v":12.3},{"d":194,"v":1.2},{"d":194,"v":8.9},{"d":195,"v":15.5},{"d":195,"v":3.6},{"d":196,"v":0.2},{"d":197,"v":11.4},{"d":197,"v":5.4},{"d":198,"v":14.6},{"d":199,"v":12.7},{"d":200,"v":7.6},{"d":201,"v":15.1},{"d":203,"v":12.4},{"d":204,"v":6.2},{"d":208,"v":9.4},{"d":212,"v":7.8},{"d":213,"v":8.2},{"d":214,"v":7.4},{"d":215,"v":8.0},{"d":216,"v":7.6},{"d":217,"v":8.4},{"d":218,"v":7.9},{"d":219,"v":7.2},{"d":220,"v":8.1},{"d":221,"v":7.5},{"d":222,"v":8.6},{"d":224,"v":10.6},{"d":225,"v":6.0},{"d":228,"v":4.2},{"d":230,"v":11.4},{"d":232,"v":6.8},{"d":236,"v":1.0},{"d":238,"v":5.6},{"d":240,"v":10.7},{"d":244,"v":4.6},{"d":246,"v":10.1},{"d":250,"v":11.0},{"d":252,"v":3.5},{"d":254,"v":8.7},{"d":258,"v":9.9},{"d":262,"v":12.4},{"d":264,"v":4.4},{"d":265,"v":0.9},{"d":268,"v":6.3},{"d":270,"v":10.6},{"d":272,"v":3.0},{"d":276,"v":5.5},{"d":278,"v":0.4},{"d":280,"v":9.3},{"d":284,"v":11.6},{"d":286,"v":4.1},{"d":288,"v":1.6},{"d":292,"v":5.7},{"d":294,"v":9.6},{"d":298,"v":7.4},{"d":300,"v":10.2},{"d":304,"v":0.8},{"d":306,"v":8.9},{"d":308,"v":16.1},{"d":312,"v":17.0},{"d":314,"v":10.8},{"d":318,"v":7.6},{"d":320,"v":19.8},{"d":322,"v":12.3},{"d":324,"v":5.4},{"d":328,"v":14.6},{"d":330,"v":3.5},{"d":332,"v":15.5},{"d":336,"v":12.8},{"d":338,"v":16.7},{"d":342,"v":13.4},{"d":344,"v":8.4},{"d":346,"v":14.9},{"d":350,"v":18.1},{"d":352,"v":9.6},{"d":356,"v":15.1},{"d":358,"v":10.7},{"d":362,"v":16.5},{"d":364,"v":9.2},
{"d":367,"v":12.2},{"d":369,"v":15.2},{"d":371,"v":10.3},{"d":374,"v":14.6},{"d":377,"v":9.5},{"d":379,"v":18.1},{"d":382,"v":11.4},{"d":385,"v":12.6},{"d":387,"v":16.2},{"d":390,"v":10.1},{"d":393,"v":14.1},{"d":396,"v":15.6},{"d":399,"v":9.8},{"d":401,"v":7.6},{"d":403,"v":5.8},{"d":404,"v":17.1},{"d":406,"v":3.7},{"d":407,"v":14.3},{"d":408,"v":5.9},{"d":411,"v":4.8},{"d":412,"v":16.5},{"d":415,"v":19.2},{"d":416,"v":12.1},{"d":419,"v":14.9},{"d":420,"v":20.0},{"d":423,"v":15.8},{"d":424,"v":18.4},{"d":427,"v":16.9},{"d":429,"v":7.2},{"d":431,"v":10.8},{"d":433,"v":15.1},{"d":435,"v":20.9},{"d":437,"v":14.2},{"d":439,"v":11.3},{"d":441,"v":16.8},{"d":445,"v":9.4},{"d":447,"v":15.5},{"d":449,"v":17.2},{"d":451,"v":12.8},{"d":453,"v":7.0},{"d":454,"v":3.2},{"d":455,"v":14.7},{"d":457,"v":2.4},{"d":459,"v":17.9},{"d":461,"v":13.3},{"d":463,"v":10.2},{"d":465,"v":15.9},{"d":467,"v":8.0},{"d":471,"v":14.1},{"d":475,"v":16.6},{"d":477,"v":9.1},{"d":479,"v":13.8},{"d":481,"v":17.3},{"d":485,"v":10.5},{"d":487,"v":15.0},{"d":489,"v":1.2},{"d":490,"v":0.4},{"d":491,"v":13.6},{"d":491,"v":17.8},{"d":492,"v":0.8},{"d":493,"v":6.6},{"d":493,"v":11.4},{"d":494,"v":19.8},{"d":495,"v":10.9},{"d":495,"v":2.1},{"d":496,"v":12.3},{"d":496,"v":15.7},{"d":497,"v":0.3},{"d":497,"v":11.8},{"d":498,"v":20.4},{"d":498,"v":1.5},{"d":499,"v":10.6},{"d":499,"v":13.9},{"d":500,"v":3.1},{"d":500,"v":11.2},{"d":501,"v":18.6},{"d":501,"v":0.6},{"d":502,"v":9.7},{"d":502,"v":12.0},{"d":503,"v":16.3},{"d":503,"v":4.2},{"d":504,"v":11.5},{"d":505,"v":10.1},{"d":506,"v":14.4},{"d":507,"v":2.6},{"d":509,"v":17.0},{"d":511,"v":12.9},{"d":513,"v":3.8},{"d":515,"v":15.2},{"d":519,"v":13.5},{"d":523,"v":16.1},{"d":527,"v":14.8},{"d":529,"v":6.9},{"d":533,"v":15.6},{"d":537,"v":13.9},{"d":539,"v":16.4},{"d":541,"v":5.2},{"d":545,"v":11.9},{"d":547,"v":16.0},{"d":551,"v":15.3},{"d":555,"v":9.2},{"d":556,"v":15.9},{"d":557,"v":0.5},{"d":558,"v":12.3},{"d":559,"v":1.2},{"d":559,"v":8.9},{"d":560,"v":15.5},{"d":560,"v":3.6},{"d":561,"v":0.2},{"d":562,"v":11.4},{"d":562,"v":5.4},{"d":563,"v":14.6},{"d":564,"v":12.7},{"d":565,"v":7.6},{"d":566,"v":15.1},{"d":568,"v":12.4},{"d":569,"v":6.2},{"d":573,"v":9.4},{"d":577,"v":7.8},{"d":578,"v":8.2},{"d":579,"v":7.4},{"d":580,"v":8.0},{"d":581,"v":7.6},{"d":582,"v":8.4},{"d":583,"v":7.9},{"d":584,"v":7.2},{"d":585,"v":8.1},{"d":586,"v":7.5},{"d":587,"v":8.6},{"d":589,"v":10.6},{"d":590,"v":6.0},{"d":593,"v":4.2},{"d":595,"v":11.4},{"d":597,"v":6.8},{"d":601,"v":1.0},{"d":603,"v":5.6},{"d":605,"v":10.7},{"d":609,"v":4.6},{"d":611,"v":10.1},{"d":615,"v":11.0},{"d":617,"v":3.5},{"d":619,"v":8.7},{"d":623,"v":9.9},{"d":627,"v":12.4},{"d":629,"v":4.4},{"d":630,"v":0.9},{"d":633,"v":6.3},{"d":635,"v":10.6},{"d":637,"v":3.0},{"d":641,"v":5.5},{"d":643,"v":0.4},{"d":645,"v":9.3},{"d":649,"v":11.6},{"d":651,"v":4.1},{"d":653,"v":1.6},{"d":657,"v":5.7},{"d":659,"v":9.6},{"d":663,"v":7.4},{"d":665,"v":10.2},{"d":669,"v":0.8},{"d":671,"v":8.9},{"d":673,"v":16.1},{"d":677,"v":17.0},{"d":679,"v":10.8},{"d":683,"v":7.6},{"d":685,"v":19.8},{"d":687,"v":12.3},{"d":689,"v":5.4},{"d":693,"v":14.6},{"d":695,"v":3.5},{"d":697,"v":15.5},{"d":701,"v":12.8},{"d":703,"v":16.7},{"d":707,"v":13.4},{"d":709,"v":8.4},{"d":711,"v":14.9},{"d":715,"v":18.1},{"d":717,"v":9.6},{"d":721,"v":15.1},{"d":723,"v":10.7},{"d":727,"v":16.5},{"d":729,"v":9.2},
{"d":732,"v":12.2},{"d":734,"v":15.2},{"d":736,"v":10.3},{"d":739,"v":14.6},{"d":742,"v":9.5},{"d":744,"v":18.1},{"d":747,"v":11.4},{"d":750,"v":12.6},{"d":752,"v":16.2},{"d":755,"v":10.1},{"d":758,"v":14.1},{"d":761,"v":15.6},{"d":764,"v":9.8},{"d":766,"v":7.6},{"d":768,"v":5.8},{"d":769,"v":17.1},{"d":771,"v":3.7},{"d":772,"v":14.3},{"d":773,"v":5.9},{"d":776,"v":4.8},{"d":777,"v":16.5},{"d":780,"v":19.2},{"d":781,"v":12.1},{"d":784,"v":14.9},{"d":785,"v":20.0},{"d":788,"v":15.8},{"d":789,"v":18.4},{"d":792,"v":16.9},{"d":794,"v":7.2},{"d":796,"v":10.8},{"d":798,"v":15.1},{"d":800,"v":20.9},{"d":802,"v":14.2},{"d":804,"v":11.3},{"d":806,"v":16.8},{"d":810,"v":9.4},{"d":812,"v":15.5},{"d":814,"v":17.2},{"d":816,"v":12.8},{"d":818,"v":7.0},{"d":819,"v":3.2},{"d":820,"v":14.7},{"d":822,"v":2.4},{"d":824,"v":17.9},{"d":826,"v":13.3},{"d":828,"v":10.2},{"d":830,"v":15.9},{"d":832,"v":8.0},{"d":836,"v":14.1},{"d":840,"v":16.6},{"d":842,"v":9.1},{"d":844,"v":13.8},{"d":846,"v":17.3},{"d":850,"v":10.5},{"d":852,"v":15.0},{"d":854,"v":1.2},{"d":855,"v":0.4},{"d":856,"v":13.6},{"d":856,"v":17.8},{"d":857,"v":0.8},{"d":858,"v":6.6},{"d":858,"v":11.4},{"d":859,"v":19.8},{"d":860,"v":10.9},{"d":860,"v":2.1},{"d":861,"v":12.3},{"d":861,"v":15.7},{"d":862,"v":0.3},{"d":862,"v":11.8},{"d":863,"v":20.4},{"d":863,"v":1.5},{"d":864,"v":10.6},{"d":864,"v":13.9},{"d":865,"v":3.1},{"d":865,"v":11.2},{"d":866,"v":18.6},{"d":866,"v":0.6},{"d":867,"v":9.7},{"d":867,"v":12.0},{"d":868,"v":16.3},{"d":868,"v":4.2},{"d":869,"v":11.5},{"d":870,"v":10.1},{"d":871,"v":14.4},{"d":872,"v":2.6},{"d":874,"v":17.0},{"d":876,"v":12.9},{"d":878,"v":3.8},{"d":880,"v":15.2},{"d":884,"v":13.5},{"d":888,"v":16.1},{"d":892,"v":14.8},{"d":894,"v":6.9},{"d":898,"v":15.6},{"d":902,"v":13.9},{"d":904,"v":16.4},{"d":906,"v":5.2},{"d":910,"v":11.9},{"d":912,"v":16.0},{"d":916,"v":15.3},{"d":920,"v":9.2},{"d":921,"v":15.9},{"d":922,"v":0.5},{"d":923,"v":12.3},{"d":924,"v":1.2},{"d":924,"v":8.9},{"d":925,"v":15.5},{"d":925,"v":3.6},{"d":926,"v":0.2},{"d":927,"v":11.4},{"d":927,"v":5.4},{"d":928,"v":14.6},{"d":929,"v":12.7},{"d":930,"v":7.6},{"d":931,"v":15.1},{"d":933,"v":12.4},{"d":934,"v":6.2},{"d":938,"v":9.4},{"d":942,"v":7.8},{"d":943,"v":8.2},{"d":944,"v":7.4},{"d":945,"v":8.0},{"d":946,"v":7.6},{"d":947,"v":8.4},{"d":948,"v":7.9},{"d":949,"v":7.2},{"d":950,"v":8.1},{"d":951,"v":7.5},{"d":952,"v":8.6},{"d":954,"v":10.6},{"d":955,"v":6.0},{"d":958,"v":4.2},{"d":960,"v":11.4},{"d":962,"v":6.8},{"d":966,"v":1.0},{"d":968,"v":5.6},{"d":970,"v":10.7},{"d":974,"v":4.6},{"d":976,"v":10.1},{"d":980,"v":11.0},{"d":982,"v":3.5},{"d":984,"v":8.7},{"d":988,"v":9.9},{"d":992,"v":12.4},{"d":994,"v":4.4},{"d":995,"v":0.9},{"d":998,"v":6.3},{"d":1000,"v":10.6},{"d":1002,"v":3.0},{"d":1006,"v":5.5},{"d":1008,"v":0.4},{"d":1010,"v":9.3},{"d":1014,"v":11.6},{"d":1016,"v":4.1},{"d":1018,"v":1.6},{"d":1022,"v":5.7},{"d":1024,"v":9.6},{"d":1028,"v":7.4},{"d":1030,"v":10.2},{"d":1034,"v":0.8},{"d":1036,"v":8.9},{"d":1038,"v":16.1},{"d":1042,"v":17.0},{"d":1044,"v":10.8},{"d":1048,"v":7.6},{"d":1050,"v":19.8},{"d":1052,"v":12.3},{"d":1054,"v":5.4},{"d":1058,"v":14.6},{"d":1060,"v":3.5},{"d":1062,"v":15.5},{"d":1066,"v":12.8},{"d":1068,"v":16.7},{"d":1072,"v":13.4},{"d":1074,"v":8.4},{"d":1076,"v":14.9},{"d":1080,"v":18.1},{"d":1082,"v":9.6},{"d":1086,"v":15.1},{"d":1088,"v":10.7},{"d":1092,"v":16.5},{"d":1094,"v":9.2}
],
"no2Mod": [
{"d":0,"v":13.0},{"d":30,"v":13.0},{"d":36,"v":13.2},{"d":56,"v":12.6},{"d":82,"v":12.4},{"d":107,"v":12.1},{"d":133,"v":11.8},{"d":159,"v":11.4},{"d":185,"v":11.2},{"d":211,"v":10.9},{"d":237,"v":10.8},{"d":263,"v":10.6},{"d":289,"v":10.6},{"d":314,"v":10.8},{"d":327,"v":10.9},{"d":337,"v":11.4},{"d":353,"v":11.6},{"d":366,"v":12.0},{"d":379,"v":12.1},{"d":405,"v":12.4},{"d":431,"v":12.7},{"d":457,"v":12.6},{"d":483,"v":12.4},{"d":506,"v":11.8},{"d":538,"v":11.2},{"d":570,"v":10.9},{"d":603,"v":10.8},{"d":635,"v":10.8},{"d":667,"v":10.9},{"d":700,"v":11.3},{"d":719,"v":11.6},{"d":732,"v":12.2},{"d":764,"v":12.6},{"d":797,"v":12.8},{"d":803,"v":12.2},{"d":816,"v":12.0},{"d":829,"v":12.2},{"d":842,"v":12.1},{"d":862,"v":11.4},{"d":894,"v":11.1},{"d":926,"v":10.5},{"d":959,"v":10.2},{"d":991,"v":10.2},{"d":1023,"v":10.5},{"d":1056,"v":10.5},{"d":1059,"v":11.1},{"d":1095,"v":11.2}
]
},
"vconcat": [
{
 "width": 563, "height": 141,
 "title": {"text": "Mixed layer depth"},
 "encoding": {
  "x": {"field": "d", "type": "quantitative", "scale": {"domain": [0, 1095], "nice": false}, "axis": {"title": "Day", "values": [0, 200, 400, 600, 800, 1000], "format": "d"}},
  "y": {"field": "v", "type": "quantitative", "scale": {"domain": [-200, 0], "nice": false}, "axis": {"title": "UML depth (m)", "values": [-200, -150, -100, -50, 0], "format": "d", "titlePadding": 6}}
 },
 "layer": [
  {"data": {"name": "mldObs"},
   "mark": {"type": "point", "filled": true, "size": 484, "strokeWidth": 0.6, "opacity": 0.85, "clip": true},
   "encoding": {
    "color": {"datum": "Obs.", "type": "nominal", "scale": {"domain": ["Obs.", "Model"], "range": ["#2f642f", "transparent"]},
      "legend": {"orient": "none", "legendX": 176, "legendY": 816, "direction": "horizontal", "title": null, "labelFont": "Liberation Sans", "labelFontSize": 17, "labelColor": "black", "strokeColor": "black", "fillColor": "white", "cornerRadius": 4, "padding": 5, "symbolSize": 400, "symbolStrokeWidth": 1.5, "labelOffset": 26, "columnPadding": 29, "symbolOpacity": 1}},
    "stroke": {"datum": "Obs.", "type": "nominal", "scale": {"domain": ["Obs.", "Model"], "range": ["#0f340f", "#ff0000"]}, "legend": {"title": null}},
    "shape": {"datum": "Obs.", "type": "nominal", "scale": {"domain": ["Obs.", "Model"], "range": ["M-0.15,-0.15H0.15V0.15H-0.15Z", "M-0.6,0H2"]}, "legend": {"title": null}}
   }},
  {"data": {"name": "mldMod"},
   "mark": {"type": "line", "color": "#ff0000", "strokeWidth": 1.5, "clip": true}}
 ]
},
{
 "width": 563, "height": 141,
 "title": {"text": "Surface chlorophyll"},
 "encoding": {
  "x": {"field": "d", "type": "quantitative", "scale": {"domain": [0, 1095], "nice": false}, "axis": {"title": "Day", "values": [0, 200, 400, 600, 800, 1000], "format": "d"}},
  "y": {"field": "v", "type": "quantitative", "scale": {"domain": [0, 4], "nice": false}, "axis": {"title": ["Surface Chlorophyll", "(mmol/m³)"], "values": [0, 0.5, 1, 1.5, 2, 2.5, 3, 3.5, 4], "format": ".1f", "titlePadding": 2}}
 },
 "layer": [
  {"data": {"name": "chlObs"},
   "mark": {"type": "point", "filled": true, "size": 484, "strokeWidth": 0.6, "opacity": 0.85, "clip": true},
   "encoding": {
    "color": {"datum": "Obs.", "type": "nominal", "scale": {"domain": ["Obs.", "Model"], "range": ["#2f642f", "transparent"]}},
    "stroke": {"datum": "Obs.", "type": "nominal", "scale": {"domain": ["Obs.", "Model"], "range": ["#0f340f", "#ff0000"]}},
    "shape": {"datum": "Obs.", "type": "nominal", "scale": {"domain": ["Obs.", "Model"], "range": ["M-0.15,-0.15H0.15V0.15H-0.15Z", "M-0.6,0H2"]}}
   }},
  {"data": {"name": "chlMod"},
   "mark": {"type": "line", "color": "#ff0000", "strokeWidth": 1.5, "clip": true}}
 ]
},
{
 "width": 563, "height": 141,
 "title": {"text": "Primary production"},
 "encoding": {
  "x": {"field": "d", "type": "quantitative", "scale": {"domain": [0, 1095], "nice": false}, "axis": {"title": "Day", "values": [0, 200, 400, 600, 800, 1000], "format": "d"}},
  "y": {"field": "v", "type": "quantitative", "scale": {"domain": [0, 1600], "nice": false}, "axis": {"title": ["Integrated primary production", "(mgC/m²/day)"], "values": [0, 200, 400, 600, 800, 1000, 1200, 1400, 1600], "format": "d", "labelFontSize": 11, "titlePadding": 4}}
 },
 "layer": [
  {"data": {"name": "ppObs"},
   "mark": {"type": "point", "filled": true, "size": 484, "strokeWidth": 0.6, "opacity": 0.85, "clip": true},
   "encoding": {
    "color": {"datum": "Obs.", "type": "nominal", "scale": {"domain": ["Obs.", "Model"], "range": ["#2f642f", "transparent"]}},
    "stroke": {"datum": "Obs.", "type": "nominal", "scale": {"domain": ["Obs.", "Model"], "range": ["#0f340f", "#ff0000"]}},
    "shape": {"datum": "Obs.", "type": "nominal", "scale": {"domain": ["Obs.", "Model"], "range": ["M-0.15,-0.15H0.15V0.15H-0.15Z", "M-0.6,0H2"]}}
   }},
  {"data": {"name": "ppMod"},
   "mark": {"type": "line", "color": "#ff0000", "strokeWidth": 1.5, "clip": true}}
 ]
},
{
 "width": 563, "height": 141,
 "title": {"text": "Surface nitrite"},
 "encoding": {
  "x": {"field": "d", "type": "quantitative", "scale": {"domain": [0, 1095], "nice": false}, "axis": {"title": "Day", "values": [0, 200, 400, 600, 800, 1000], "format": "d"}},
  "y": {"field": "v", "type": "quantitative", "scale": {"domain": [0, 25], "nice": false}, "axis": {"title": ["Surface Nutrients", "(mmol/m³)"], "values": [0, 5, 10, 15, 20, 25], "format": "d", "titlePadding": 3}}
 },
 "layer": [
  {"data": {"name": "no2Obs"},
   "mark": {"type": "point", "filled": true, "size": 484, "strokeWidth": 0.6, "opacity": 0.85, "clip": true},
   "encoding": {
    "color": {"datum": "Obs.", "type": "nominal", "scale": {"domain": ["Obs.", "Model"], "range": ["#2f642f", "transparent"]}},
    "stroke": {"datum": "Obs.", "type": "nominal", "scale": {"domain": ["Obs.", "Model"], "range": ["#0f340f", "#ff0000"]}},
    "shape": {"datum": "Obs.", "type": "nominal", "scale": {"domain": ["Obs.", "Model"], "range": ["M-0.15,-0.15H0.15V0.15H-0.15Z", "M-0.6,0H2"]}}
   }},
  {"data": {"name": "no2Mod"},
   "mark": {"type": "line", "color": "#ff0000", "strokeWidth": 1.5, "clip": true}}
 ]
}
],
"spacing": 70,
"bounds": "flush"
}
